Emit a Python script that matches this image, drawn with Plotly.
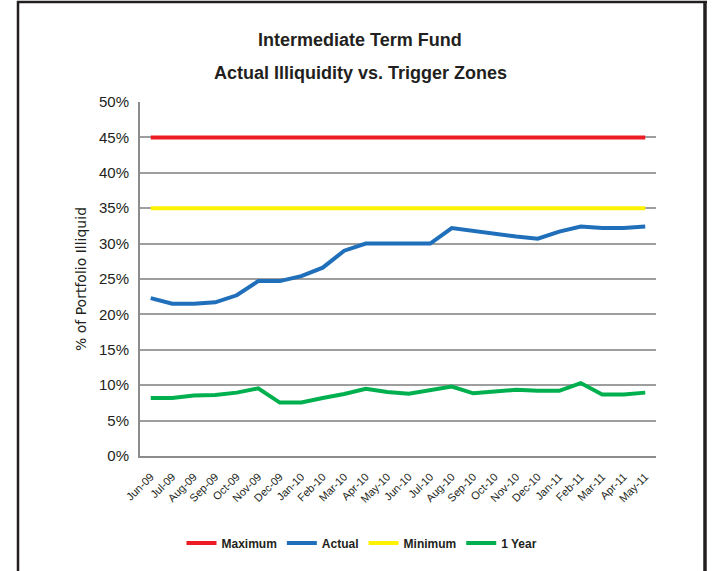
import plotly.graph_objects as go

months = ["Jun-09", "Jul-09", "Aug-09", "Sep-09", "Oct-09", "Nov-09", "Dec-09", "Jan-10",
          "Feb-10", "Mar-10", "Apr-10", "May-10", "Jun-10", "Jul-10", "Aug-10", "Sep-10",
          "Oct-10", "Nov-10", "Dec-10", "Jan-11", "Feb-11", "Mar-11", "Apr-11", "May-11"]

maximum = [45.0] * 24
minimum = [35.0] * 24
actual = [22.3, 21.5, 21.5, 21.7, 22.7, 24.7, 24.7, 25.4, 26.6, 29.0, 30.0, 30.0,
          30.0, 30.0, 32.2, 31.8, 31.3, 31.0, 30.7, 31.7, 32.4, 32.2, 32.2, 32.4]
one_year = [8.2, 8.2, 8.55, 8.6, 8.95, 9.55, 7.55, 7.55, 8.2, 8.75, 9.5, 9.05,
            8.8, 9.3, 9.8, 8.85, 9.1, 9.35, 9.2, 9.2, 10.3, 8.7, 8.7, 8.95]

y_ticks = [0, 5, 10, 15, 20, 25, 30, 35, 40, 45, 50]
y_tick_labels = [f"{v}%" for v in y_ticks]

series = [
    ("Maximum", maximum, "#ED1C24"),
    ("Actual", actual, "#1F6FBA"),
    ("Minimum", minimum, "#FFF200"),
    ("1 Year", one_year, "#00B04F"),
]

fig = go.Figure()
for name, vals, color in series:
    fig.add_trace(go.Scatter(x=months, y=vals, name=name, mode="lines",
                             line=dict(color=color, width=4)))

W, H = 719, 571
L, R, T, B = 140, 63, 102, 115
pw, ph = W - L - R, H - T - B

def px(x):
    return (x - L) / pw

def py(y):
    return (H - B - y) / ph

TXT = "#231F20"
NARROW = "Liberation Sans Narrow, Arial Narrow, Liberation Sans, Arial"

fig.update_layout(
    width=W, height=H,
    margin=dict(l=L, r=R, t=T, b=B),
    paper_bgcolor="white", plot_bgcolor="white",
    font=dict(family=NARROW, color=TXT),
    showlegend=True,
    legend=dict(orientation="h", x=px(362), xanchor="center", y=py(543), yanchor="middle",
                font=dict(size=12, family=NARROW, color=TXT, weight="bold"),
                itemwidth=30, tracegroupgap=0, bgcolor="rgba(0,0,0,0)"),
    xaxis=dict(type="category", tickangle=-45, showgrid=False, showline=True,
               linecolor="#8c8c8c", linewidth=2, ticks="outside", ticklen=8,
               tickcolor="rgba(0,0,0,0)", range=[-0.5, 23.5],
               tickfont=dict(size=11, family=NARROW, color=TXT)),
    yaxis=dict(range=[0, 50], tickvals=y_ticks, ticktext=y_tick_labels, showgrid=True,
               gridcolor="#9e9e9e", gridwidth=1.5, showline=True, linecolor="#8c8c8c",
               linewidth=2, ticks="outside", ticklen=6, tickcolor="rgba(0,0,0,0)",
               zeroline=False,
               tickfont=dict(size=15, family=NARROW, color=TXT),
               title=dict(text="% of Portfolio Illiquid", standoff=9,
                          font=dict(size=14, family="DejaVu Sans, Liberation Sans", color=TXT))),
    annotations=[
        dict(text="<b>Intermediate Term Fund</b>", x=px(360), y=py(40), xref="paper", yref="paper",
             showarrow=False, font=dict(size=18, color=TXT, family=NARROW),
             xanchor="center", yanchor="middle"),
        dict(text="<b>Actual Illiquidity vs. Trigger Zones</b>", x=px(360), y=py(73), xref="paper",
             yref="paper", showarrow=False, font=dict(size=18, color=TXT, family=NARROW),
             xanchor="center", yanchor="middle"),
    ],
    shapes=[
        dict(type="line", xref="paper", yref="paper", x0=px(18), x1=px(18), y0=py(1), y1=py(580),
             line=dict(color=TXT, width=2.5)),
        dict(type="line", xref="paper", yref="paper", x0=px(17), x1=px(707), y0=py(2), y1=py(2),
             line=dict(color=TXT, width=2.5)),
        dict(type="line", xref="paper", yref="paper", x0=px(705), x1=px(705), y0=py(1), y1=py(580),
             line=dict(color=TXT, width=3.5)),
    ],
)

fig.write_html("out.html", config={"displayModeBar": False},
               post_script="document.body.style.margin='0';")
